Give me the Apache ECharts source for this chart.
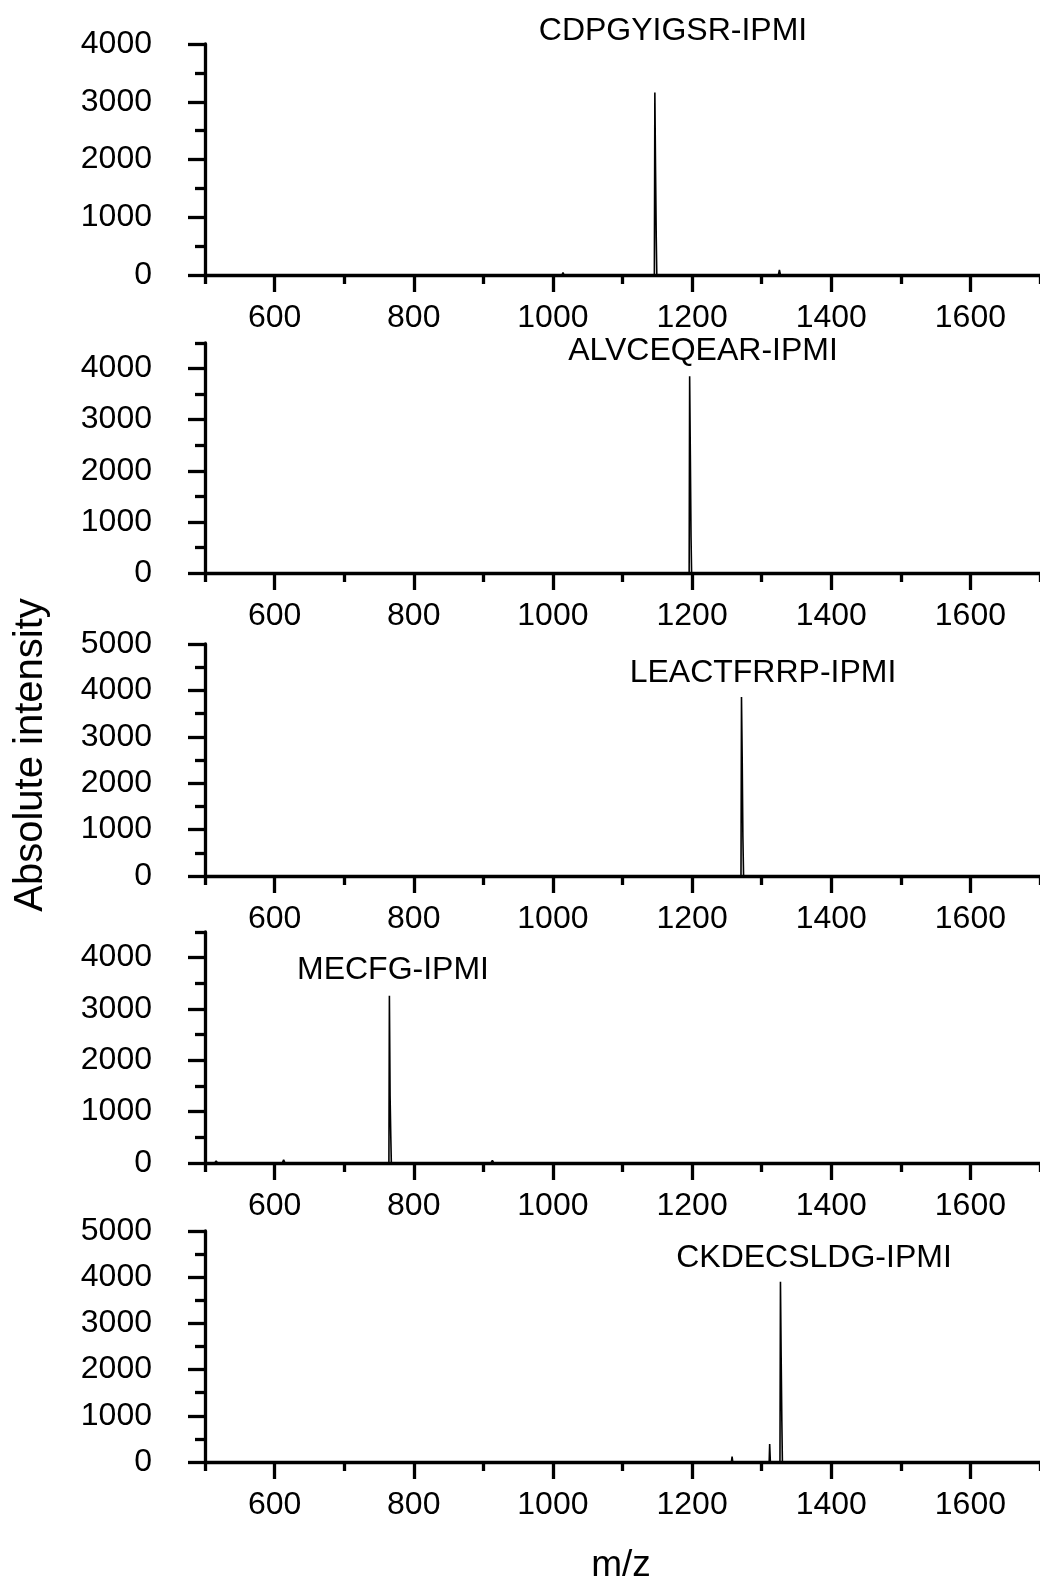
<!DOCTYPE html>
<html>
<head>
<meta charset="utf-8">
<script src="https://cdn.jsdelivr.net/npm/echarts@6/dist/echarts.min.js"></script>
<style>
  html, body { margin: 0; padding: 0; background: #fff; }
  #chart { width: 1040px; height: 1585px; }
</style>
</head>
<body>
<div id="chart"></div>
<script>
// peptide labels, top to bottom
const peptides = ['CDPGYIGSR-IPMI', 'ALVCEQEAR-IPMI', 'LEACTFRRP-IPMI', 'MECFG-IPMI', 'CKDECSLDG-IPMI']

// spectra: m/z and absolute intensity
const mz1 = [500, 970, 971, 972, 1013, 1014.5, 1016, 1145.8, 1146.5, 1147.5, 1148.5, 1149.3, 1324, 1325.5, 1327, 1700]
const int1 = [0, 0, 20, 0, 0, 40, 0, 0, 3160, 1820, 650, 0, 0, 90, 0, 0]

const mz2 = [500, 514, 516, 518, 1062, 1064, 1066, 1125, 1127, 1129, 1195.8, 1196.5, 1197.5, 1198.5, 1199.3, 1700]
const int2 = [0, 0, 30, 0, 0, 25, 0, 0, 20, 0, 0, 3850, 2310, 700, 0, 0]

const mz3 = [500, 1270.3, 1271, 1272, 1273, 1274, 1700]
const int3 = [0, 0, 3860, 2570, 850, 0, 0]

const mz4 = [500, 514, 516, 518, 611, 613, 615, 764.3, 765, 766, 767, 767.8, 911, 913, 915, 1700]
const int4 = [0, 0, 40, 0, 0, 60, 0, 0, 3260, 1300, 520, 0, 0, 50, 0, 0]

const mz5 = [500, 1256.5, 1257.5, 1258.5, 1310.8, 1311.5, 1312.5, 1326.3, 1327, 1328, 1329, 1329.8, 1384, 1385, 1386, 1700]
const int5 = [0, 0, 115, 0, 0, 390, 0, 0, 3900, 2300, 870, 0, 0, 20, 0, 0]

// axis ranges and ticks
const yMax = [4000, 4500, 5000, 4500, 5000]
const xMajor = [600, 800, 1000, 1200, 1400, 1600]
const xMinor = [500, 700, 900, 1100, 1300, 1500, 1700]

const spectra = [[mz1, int1], [mz2, int2], [mz3, int3], [mz4, int4], [mz5, int5]]

// panel layout (px)
const gridTops = [44, 343, 644, 932, 1231]
const gridHeights = [231, 230, 232, 231, 231]
const labelPos = [[673, 31], [703, 351], [763, 673], [393, 970], [814, 1258]]

const font = "'Liberation Sans', Arial, sans-serif"
const ink = '#000'
const axisW = 3.3

function yTicks(max, start) {
  const out = []
  for (let v = start; v <= max; v += 1000) out.push(v)
  return out
}

const plain = (v) => String(v)

const grid = []
const xAxis = []
const yAxis = []
const series = []

spectra.forEach(([mz, inten], i) => {
  grid.push({ left: 205, top: gridTops[i], width: 838, height: gridHeights[i] })

  const xBase = {
    type: 'value', gridIndex: i, position: 'bottom', min: 500, max: 1700, interval: 100,
    splitLine: { show: false }
  }
  xAxis.push({
    ...xBase,
    axisLine: { show: true, lineStyle: { color: ink, width: axisW } },
    axisTick: { show: true, length: 17, customValues: xMajor, lineStyle: { color: ink, width: axisW } },
    axisLabel: { show: true, customValues: xMajor, formatter: plain, margin: 27, color: ink, fontSize: 32, fontFamily: font }
  })
  xAxis.push({
    ...xBase,
    axisLine: { show: false },
    axisTick: { show: true, length: 9, customValues: xMinor, lineStyle: { color: ink, width: axisW } },
    axisLabel: { show: false }
  })

  const yBase = {
    type: 'value', gridIndex: i, position: 'left', min: 0, max: yMax[i], interval: 500,
    splitLine: { show: false }
  }
  const major = yTicks(yMax[i], 0)
  yAxis.push({
    ...yBase,
    axisLine: { show: true, lineStyle: { color: ink, width: axisW } },
    axisTick: { show: true, length: 17, customValues: major, lineStyle: { color: ink, width: axisW } },
    axisLabel: { show: true, customValues: major, formatter: plain, margin: 53, color: ink, fontSize: 32, fontFamily: font }
  })
  yAxis.push({
    ...yBase,
    axisLine: { show: false },
    axisTick: { show: true, length: 10, customValues: yTicks(yMax[i], 500), lineStyle: { color: ink, width: axisW } },
    axisLabel: { show: false }
  })

  series.push({
    type: 'line',
    xAxisIndex: i * 2,
    yAxisIndex: i * 2,
    data: mz.map((m, k) => [m, inten[k]]),
    symbol: 'none',
    lineStyle: { color: ink, width: 1.6 },
    z: 1
  })
})

const graphic = peptides.map((name, i) => ({
  type: 'text',
  x: labelPos[i][0],
  y: labelPos[i][1],
  style: { text: name, font: `32px ${font}`, fill: ink, align: 'center', verticalAlign: 'middle' }
}))
graphic.push({
  type: 'text', x: 31, y: 755, rotation: Math.PI / 2,
  style: { text: 'Absolute intensity', font: `40px ${font}`, fill: ink, align: 'center', verticalAlign: 'middle' }
})
graphic.push({
  type: 'text', x: 621, y: 1566,
  style: { text: 'm/z', font: `37px ${font}`, fill: ink, align: 'center', verticalAlign: 'middle' }
})

const chart = echarts.init(document.getElementById('chart'))
chart.setOption({
  animation: false,
  backgroundColor: '#fff',
  grid,
  xAxis,
  yAxis,
  series,
  graphic
})
</script>
</body>
</html>
